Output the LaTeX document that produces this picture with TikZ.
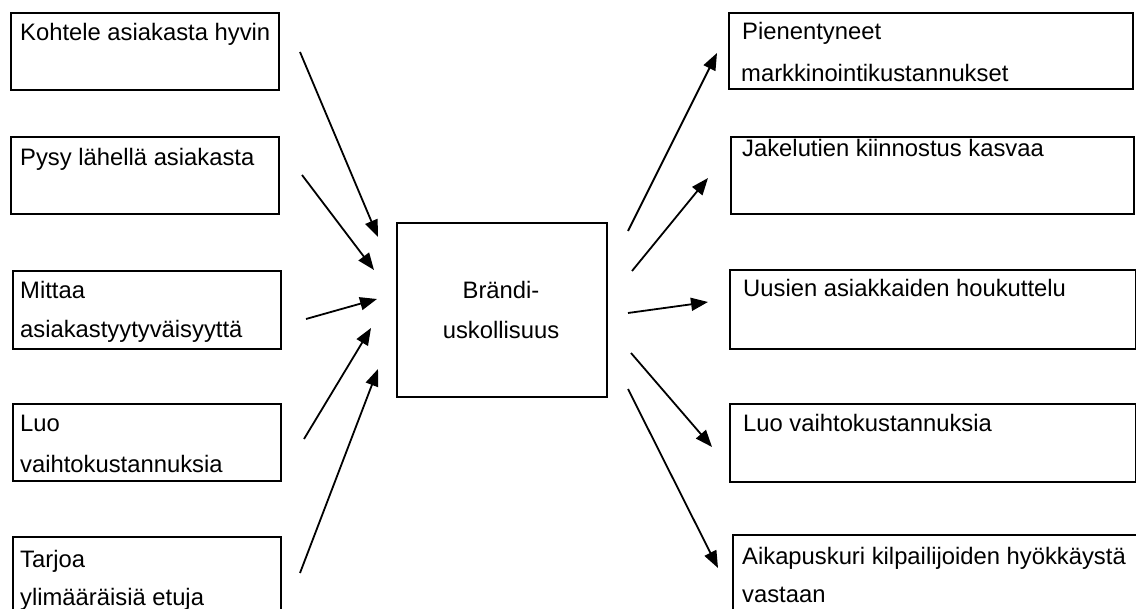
\documentclass[tikz,border=0pt]{standalone}
\usepackage{fontspec}
\setmainfont{Liberation Sans}
\usetikzlibrary{arrows.meta}
\begin{document}
\begin{tikzpicture}[x=1pt,y=-1pt,
  box/.style={draw=black,line width=2pt,rectangle,inner sep=0pt,anchor=north west},
  txt/.style={inner sep=0pt,anchor=base west,font=\fontsize{23.8}{40}\selectfont},
  ctxt/.style={inner sep=0pt,anchor=base,font=\fontsize{23.8}{40}\selectfont},
  arr/.style={line width=1.8pt,-{Triangle[length=17pt,width=13pt]}}]
\useasboundingbox (0,0) rectangle (1136,609);
\clip (0,0) rectangle (1136,609);
% left boxes
\node[box,minimum width=268pt,minimum height=77pt] (l1) at (10,12) {};
\node[box,minimum width=268pt,minimum height=77pt] (l2) at (10,136) {};
\node[box,minimum width=268pt,minimum height=78pt] (l3) at (12,270) {};
\node[box,minimum width=268pt,minimum height=77pt] (l4) at (12,403) {};
\node[box,minimum width=268pt,minimum height=100pt] (l5) at (12,536) {};
\node[txt] (l1a) at (20,41) {Kohtele asiakasta hyvin};
\node[txt] (l2a) at (20,166) {Pysy lähellä asiakasta};
\node[txt] (l3a) at (20,299) {Mittaa};
\node[txt] (l3b) at (20,338) {asiakastyytyväisyyttä};
\node[txt] (l4a) at (20,432) {Luo};
\node[txt] (l4b) at (20,473) {vaihtokustannuksia};
\node[txt] (l5a) at (20,567) {Tarjoa};
\node[txt] (l5b) at (20,605) {ylimääräisiä etuja};
% centre
\node[box,minimum width=210pt,minimum height=174pt] (c) at (396,222) {};
\node[ctxt] (ca) at (501,299) {Brändi-};
\node[ctxt] (cb) at (501,339) {uskollisuus};
% right boxes
\node[box,minimum width=404pt,minimum height=76pt] (r1) at (728,12) {};
\node[box,minimum width=403pt,minimum height=77pt] (r2) at (730,136) {};
\node[box,minimum width=406pt,minimum height=79pt] (r3) at (729,269) {};
\node[box,minimum width=406pt,minimum height=78pt] (r4) at (729,403) {};
\node[box,minimum width=420pt,minimum height=100pt] (r5) at (732,534) {};
\node[txt] (r1a) at (742,40) {Pienentyneet};
\node[txt] (r1b) at (741,82) {markkinointikustannukset};
\node[txt] (r2a) at (742,157) {Jakelutien kiinnostus kasvaa};
\node[txt] (r3a) at (743,297) {Uusien asiakkaiden houkuttelu};
\node[txt] (r4a) at (743,432) {Luo vaihtokustannuksia};
\node[txt] (r5a) at (742,565) {Aikapuskuri kilpailijoiden hyökkäystä};
\node[txt] (r5b) at (742,602) {vastaan};
% arrow end points
\coordinate (a1s) at (300,52);  \coordinate (a1e) at (378,237);
\coordinate (a2s) at (302,175); \coordinate (a2e) at (374,270);
\coordinate (a3s) at (306,319); \coordinate (a3e) at (377,299);
\coordinate (a4s) at (304,439); \coordinate (a4e) at (371,328);
\coordinate (a5s) at (300,573); \coordinate (a5e) at (378,369);
\coordinate (b1s) at (628,231); \coordinate (b1e) at (717,53);
\coordinate (b2s) at (632,271); \coordinate (b2e) at (708,178);
\coordinate (b3s) at (628,313); \coordinate (b3e) at (708,302);
\coordinate (b4s) at (631,353); \coordinate (b4e) at (712,447);
\coordinate (b5s) at (628,389); \coordinate (b5e) at (718,568);
\foreach \n in {a1,a2,a3,a4,a5,b1,b2,b3,b4,b5}
  \draw[arr] (\n s) -- (\n e);
\end{tikzpicture}
\end{document}
